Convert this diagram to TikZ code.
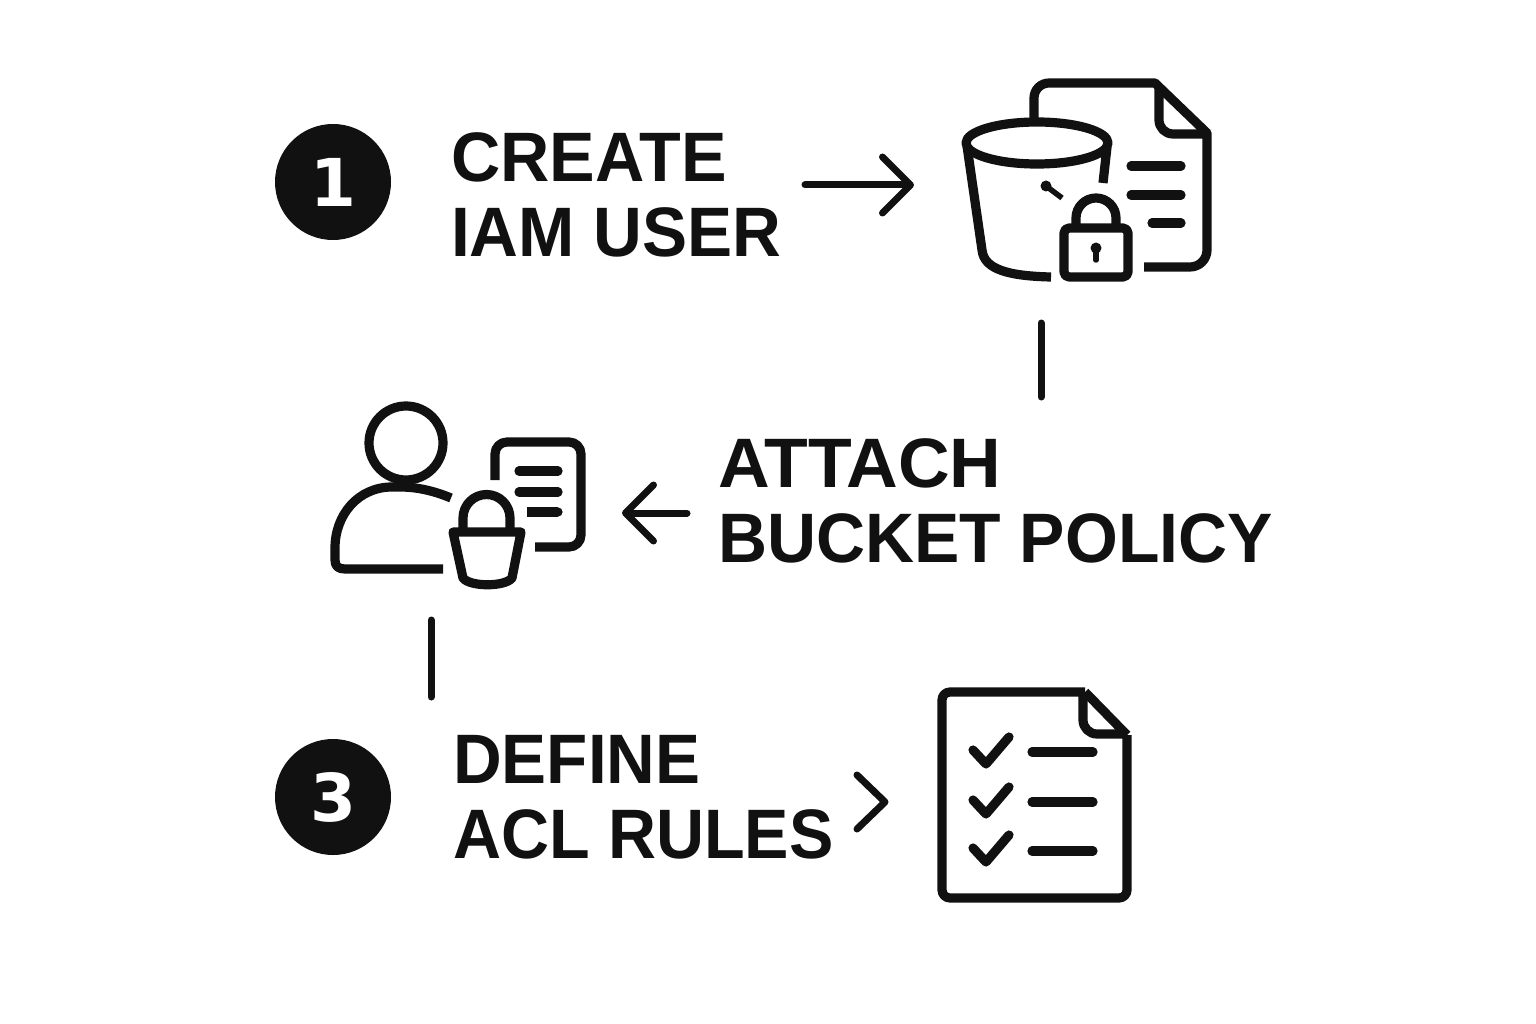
\documentclass[tikz,border=0pt]{standalone}
\usepackage{fontspec}
\setmainfont{Liberation Sans}
\newfontfamily\digitfont{DejaVu Sans}
\usetikzlibrary{arrows.meta}
\definecolor{ink}{HTML}{111111}
\newcommand{\fitline}[2]{\scalebox{#1}[1]{#2}}
\tikzset{
  icon/.style={draw=ink,line width=9.2pt,line join=round},
  thin/.style={draw=ink,line width=5.5pt},
  rnd/.style={line cap=round},
  badge/.style={circle,fill=ink,text=white,minimum size=116pt,inner sep=0pt,font=\digitfont\bfseries\fontsize{66}{66}\selectfont},
  lbl/.style={anchor=base west,inner sep=0pt,align=left,text=ink,font=\bfseries\fontsize{70}{75}\selectfont},
  conn/.style={draw=ink,line width=7pt,line cap=round,line join=round},
  flow/.style={conn,-{Straight Barb[round,length=28pt,width=56pt]}}
}
\begin{document}
\begin{tikzpicture}[x=1pt,y=-1pt]
\path[use as bounding box,fill=white] (0,0) rectangle (1536,1024);
% badges
\node[badge] (b1) at (333,182) {1};
\node[badge] (b3) at (333,797) {3};
% labels
\node[lbl] (t1) at (451,257) {\fitline{.975}{CREATE}\\\fitline{.965}{IAM USER}};
\node[lbl] (t2) at (718,562) {\fitline{1.022}{ATTACH}\\\fitline{.97}{BUCKET POLICY}};
\node[lbl] (t3) at (453,858) {\fitline{.963}{DEFINE}\\\fitline{.95}{ACL RULES}};
% connector ends
\coordinate (a1s) at (805,185); \coordinate (a1e) at (914,185);
\coordinate (a2s) at (687,513); \coordinate (a2e) at (622,513);
\coordinate (v1s) at (1041,323); \coordinate (v1e) at (1041,397);
\coordinate (v2s) at (431,620); \coordinate (v2e) at (431,697);
\coordinate (c1) at (857,775); \coordinate (c2) at (885,802); \coordinate (c3) at (857,829);
\draw[flow] (a1s) -- (a1e);
\draw[flow] (a2s) -- (a2e);
\draw[conn] (v1s) -- (v1e);
\draw[conn] (v2s) -- (v2e);
\draw[conn] (c1) -- (c2) -- (c3);
% bucket + document icon
\draw[icon] (1034,120) -- (1034,98) arc[start angle=180,end angle=270,radius=15] -- (1155,83) -- (1207,133) -- (1207,250) arc[start angle=0,end angle=90,radius=17] -- (1144,267);
\draw[icon] (1159,87) -- (1159,120) arc[start angle=180,end angle=90,radius=14] -- (1207,134);
\draw[icon] (1037,143) ellipse[x radius=71,y radius=21];
\draw[icon] (967,146) -- (982,250) .. controls (984,270) and (1010,276) .. (1051,277);
\draw[icon] (1107,147) -- (1103,183);
\fill[ink] (1046,186) circle[radius=5.5];
\draw[thin] (1046,186) -- (1062,198);
\draw[icon,rounded corners=5pt] (1064,228) rectangle (1128,277);
\draw[icon] (1076,228) -- (1076,218) arc[start angle=180,end angle=360,radius=20] -- (1116,228);
\fill[ink] (1096,248) circle[radius=5.5];
\draw[thin,rnd] (1096,248) -- (1096,260);
\draw[icon,rnd] (1131,166) -- (1181,166);
\draw[icon,rnd] (1131,195) -- (1181,195);
\draw[icon,rnd] (1152,223) -- (1181,223);
% person icon
\draw[icon] (406,443) circle[radius=37];
\draw[icon] (451,498) .. controls (432,490) and (415,487) .. (400,487) -- (392,487) .. controls (358,487) and (335,515) .. (335,548) -- (335,560) .. controls (335,566) and (338,569) .. (345,569) -- (443,569);
\draw[icon] (495,480) -- (495,454) arc[start angle=180,end angle=270,radius=12] -- (569,442) arc[start angle=270,end angle=360,radius=12] -- (581,535) arc[start angle=0,end angle=90,radius=12] -- (535,547);
\draw[icon,rnd] (519,471) -- (558,471);
\draw[icon,rnd] (519,492) -- (558,492);
\draw[icon] (527,512) -- (558,512);
\fill[ink] (558,512) circle[radius=4.6];
\draw[icon] (463,532) -- (463,518) arc[start angle=180,end angle=360,radius=23.5] -- (510,532);
\draw[icon] (453,532) -- (521,532) -- (512,578) .. controls (505,587) and (470,587) .. (463,578) -- cycle;
% checklist icon
\draw[icon,rounded corners=8pt] (1085,692) -- (942,692) -- (942,898) -- (1127,898) -- (1127,735);
\draw[icon] (1085,692) -- (1127,735);
\draw[icon] (1083,695) -- (1083,720) arc[start angle=180,end angle=90,radius=14] -- (1127,734);
\foreach \dy in {0,50,98}{
  \draw[icon,rnd] (973,\dy+750) -- (986,\dy+764) -- (1009,\dy+737);
}
\draw[icon,rnd] (1032,752) -- (1093,752);
\draw[icon,rnd] (1032,802) -- (1093,802);
\draw[icon,rnd] (1032,851) -- (1093,851);
\end{tikzpicture}
\end{document}
